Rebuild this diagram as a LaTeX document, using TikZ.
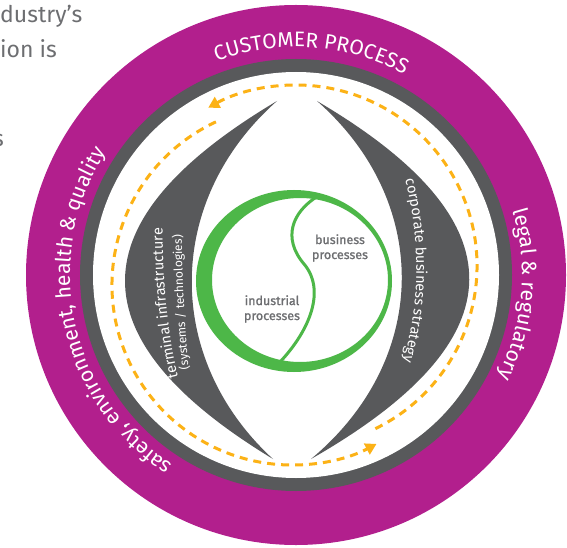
\documentclass[tikz,border=0pt]{standalone}
\usepackage{fontspec}
\setmainfont{Fira Sans}
\newfontfamily\labelfont[FakeBold=1.2]{Fira Sans}
\usetikzlibrary{decorations.text,arrows.meta}
\definecolor{mag}{RGB}{178,31,141}
\definecolor{dgray}{RGB}{88,89,91}
\definecolor{grn}{RGB}{77,183,72}
\definecolor{org}{RGB}{252,178,22}
\definecolor{txtgray}{RGB}{109,110,113}
\newcommand\ringfont{\fontsize{21}{25}\selectfont\color{white}}
\newcommand\cresfont{\fontsize{14.5}{17}\selectfont\color{white}}
\newcommand\cressmall{\fontsize{12}{14}\selectfont\color{white}}
\begin{document}
\begin{tikzpicture}[x=1pt,y=1pt,
  pagetext/.style={inner sep=0pt, text=txtgray, font=\fontsize{23}{28}\selectfont},
  greenlabel/.style={inner sep=0pt, text=txtgray, align=center, font=\labelfont\fontsize{12.5}{15}\selectfont},
  flow/.style={org, line width=3pt, dash pattern=on 8pt off 6pt, -{Triangle[length=11pt,width=12pt]}},
  crescent/.style={fill=dgray}]
\useasboundingbox (0,0) rectangle (567,547);
\clip (0,0) rectangle (567,547);

% cut-off page text
\node[pagetext, anchor=base west] (t1) at (0,524) {dustry’s};
\node[pagetext, anchor=base west] (t2) at (0,489) {ion is};
\node[pagetext, anchor=base east] (t3) at (4,400) {s};

% rings
\coordinate (c) at (296,272);
\fill[mag] (c) circle[radius=270];
\fill[dgray] (c) circle[radius=216];
\fill[white] (c) circle[radius=203];

% crescents
\fill[crescent] (277,446) .. controls (75,326) and (75,208) .. (273,88)
   .. controls (164,188) and (164,346) .. (277,446) -- cycle;
\fill[crescent] (317,446) .. controls (521,326) and (521,208) .. (311,88)
   .. controls (431,188) and (431,346) .. (317,446) -- cycle;

% green ring and S curve
\fill[grn, even odd rule] (294,266) ellipse[x radius=98, y radius=91]
   (300,267) ellipse[x radius=88, y radius=82];
\draw[grn, line width=3pt] (318,351) .. controls (292,335) and (282,309) .. (304,283)
   .. controls (326,257) and (310,217) .. (280,185);

% dashed flow arrows
\coordinate (ca) at (296,281);
\coordinate (cb) at (292,262);
\draw[flow] (ca) ++(-64:181) arc[start angle=-64, end angle=119, radius=181];
\draw[flow] (cb) ++(115:180) arc[start angle=115, end angle=298, radius=180];

% ring texts
\path[decorate, decoration={text along path, text align=center,
   text={|\ringfont|CUSTOMER PROCESS}}]
   (c) ++(156:228) arc[start angle=156, end angle=16, radius=228];
\path[decorate, decoration={text along path, text align=center,
   text={|\ringfont|legal {\&} regulatory}}]
   (c) ++(50:226) arc[start angle=50, end angle=-60, radius=226];
\path[decorate, decoration={text along path, text align=center,
   text={|\ringfont|safety, environment, health {\&} quality}}]
   (c) ++(262:226) arc[start angle=262, end angle=122, radius=226];

% crescent texts
\path[decorate, decoration={text along path, text align=center,
   text={|\cresfont|terminal infrastructure}}]
   (184,147) .. controls (167,205) and (161,275) .. (163,342);
\path[decorate, decoration={text along path, text align=center,
   text={|\cressmall|(systems / technologies)}}]
   (192,150) .. controls (185,205) and (181,280) .. (182,340);
\path[decorate, decoration={text along path, text align=center,
   text={|\cresfont|corporate business strategy}}]
   (401,382) .. controls (420,320) and (424,240) .. (398,172);

% green labels
\node[greenlabel] (biz) at (340,299) {business\\processes};
\node[greenlabel] (ind) at (272,238) {industrial\\processes};
\end{tikzpicture}
\end{document}
